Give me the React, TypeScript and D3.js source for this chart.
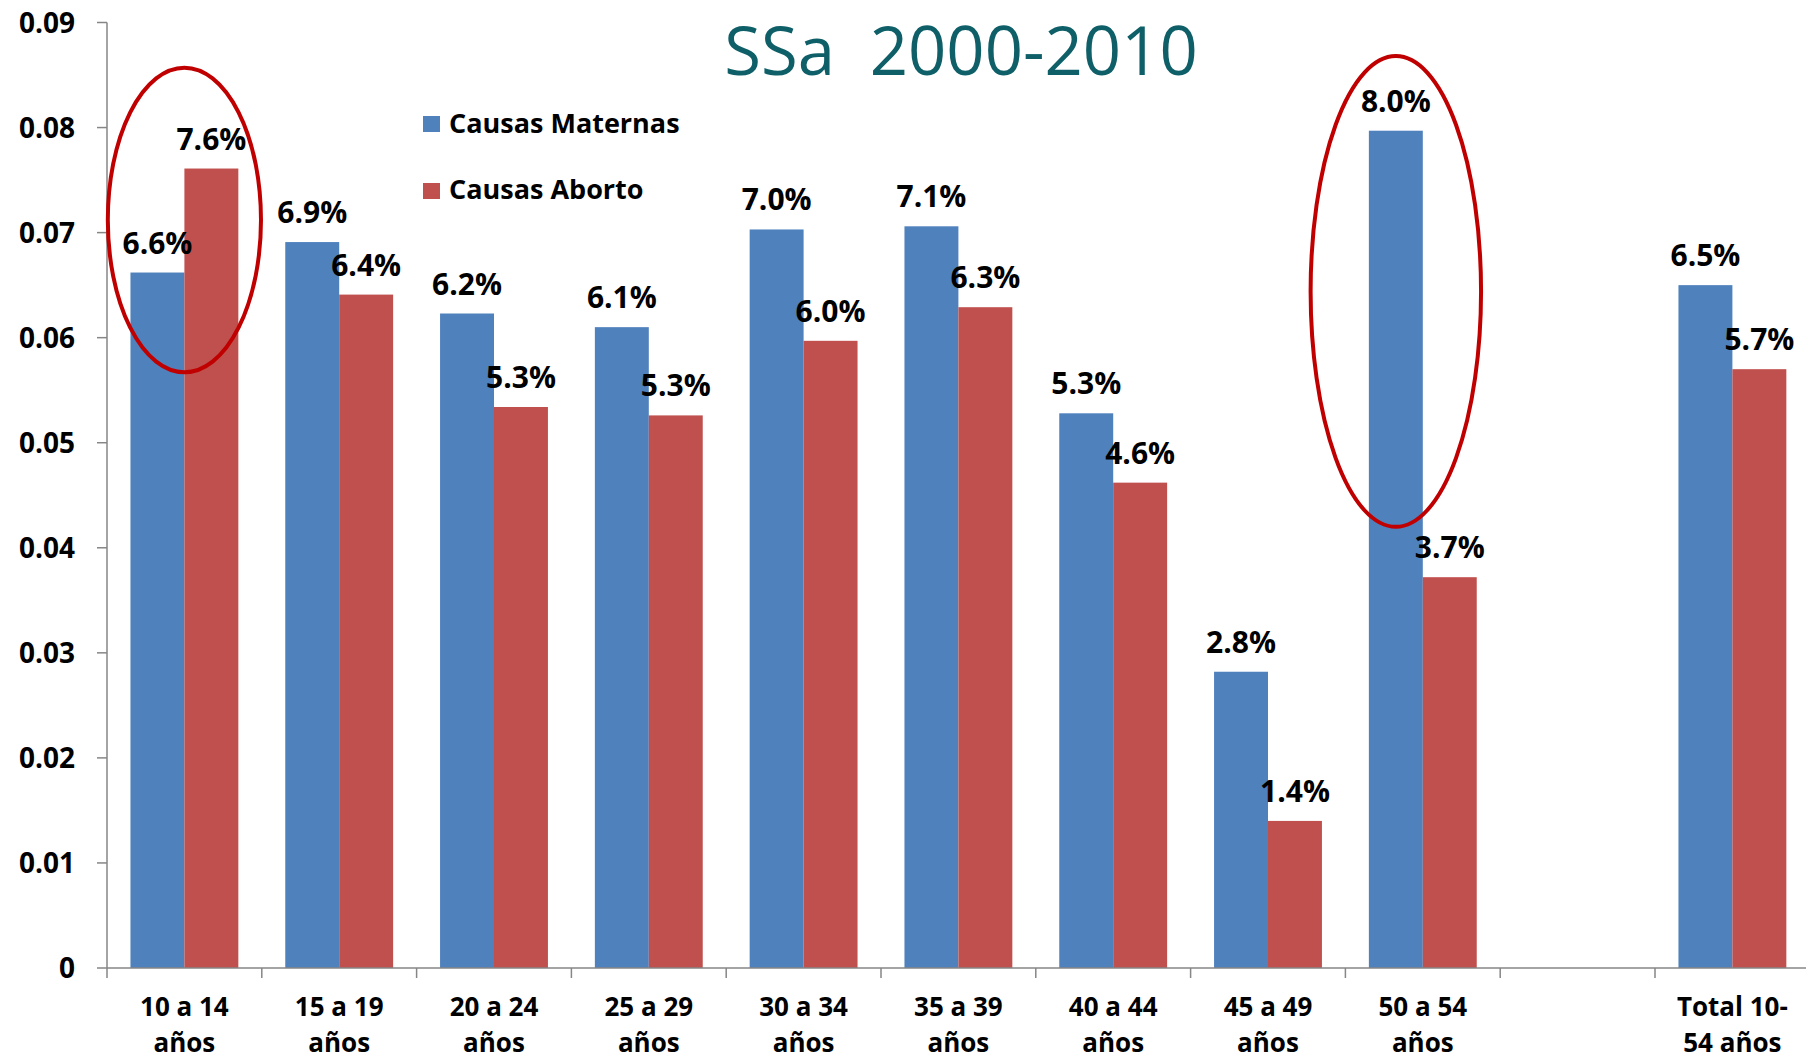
import React, { useEffect } from "react";
import * as d3 from "d3";

const categories = ["10-14", "15-19", "20-24", "25-29", "30-34", "35-39", "40-44", "45-49", "50-54", "gap", "total"];
const categoryLines: string[][] = [
  ["10 a 14", "años"],
  ["15 a 19", "años"],
  ["20 a 24", "años"],
  ["25 a 29", "años"],
  ["30 a 34", "años"],
  ["35 a 39", "años"],
  ["40 a 44", "años"],
  ["45 a 49", "años"],
  ["50 a 54", "años"],
  [],
  ["Total 10-", "54 años"],
];
const maternas: (number | null)[] = [0.0662, 0.0691, 0.0623, 0.061, 0.0703, 0.0706, 0.0528, 0.0282, 0.0797, null, 0.065];
const aborto: (number | null)[] = [0.0761, 0.0641, 0.0534, 0.0526, 0.0597, 0.0629, 0.0462, 0.014, 0.0372, null, 0.057];
const seriesNames = ["Causas Maternas", "Causas Aborto"];
const seriesColors = ["#4f81bd", "#c0504d"];
const yTicks = [0, 0.01, 0.02, 0.03, 0.04, 0.05, 0.06, 0.07, 0.08, 0.09];
// highlighted groups: category, value range, horizontal shift in bar widths
const highlightCats = ["10-14", "50-54"];
const highlightLow = [0.0567, 0.042];
const highlightHigh = [0.0857, 0.0868];
const highlightShift = [0, -0.5];
const highlightHalfWidth = [1.42, 1.58];
const titleText = "SSa  2000-2010";

const W = 1806;
const H = 1060;
const FONT = "'Open Sans', 'Noto Sans', sans-serif";

export default function App() {
  useEffect(() => {
    document.body.style.margin = "0";
  }, []);

  const x0 = 107;
  const step = 154.8;
  const x = d3.scaleBand<string>().domain(categories).range([x0, x0 + step * categories.length]).padding(0);
  const bw = x.bandwidth();
  const x1 = d3.scaleBand<string>().domain(seriesNames).range([0, bw]).paddingInner(0).paddingOuter(0.435);
  const y = d3.scaleLinear().domain([0, 0.09]).range([968, 22.5]);
  const fmt = d3.format(".1%");
  const series = [maternas, aborto];
  const barW = x1.bandwidth();

  return (
    <svg width={W} height={H} style={{ position: "absolute", left: 0, top: 0, background: "#fff" }} fontFamily={FONT}>
      <rect x={0} y={0} width={W} height={H} fill="#fff" />
      {/* title */}
      <text x={961} y={75} textAnchor="middle" fontSize={67} fill="#0e5f68" style={{ whiteSpace: "pre" }}>
        {titleText}
      </text>
      {/* y axis */}
      <line x1={x0} x2={x0} y1={y(0.09)} y2={y(0)} stroke="#868686" strokeWidth={1.5} />
      {yTicks.map((t) => (
        <g key={t}>
          <line x1={x0 - 10} x2={x0} y1={y(t)} y2={y(t)} stroke="#868686" strokeWidth={1.5} />
          <text x={75} y={y(t) + 10} textAnchor="end" fontSize={28} fontWeight="bold" fill="#000">
            {t === 0 ? "0" : t.toFixed(2)}
          </text>
        </g>
      ))}
      {/* bars */}
      {series.map((vals, si) =>
        vals.map((v, i) =>
          v == null ? null : (
            <rect
              key={`${si}-${i}`}
              x={(x(categories[i]) as number) + (x1(seriesNames[si]) as number)}
              y={y(v)}
              width={barW}
              height={y(0) - y(v)}
              fill={seriesColors[si]}
            />
          )
        )
      )}
      {/* x axis */}
      <line x1={x0} x2={x0 + step * categories.length} y1={y(0)} y2={y(0)} stroke="#868686" strokeWidth={1.5} />
      {d3.range(categories.length + 1).map((i) => (
        <line key={i} x1={x0 + i * step} x2={x0 + i * step} y1={y(0)} y2={y(0) + 10} stroke="#868686" strokeWidth={1.5} />
      ))}
      {categories.map((c, i) => (
        <text key={c} textAnchor="middle" fontSize={26} fontWeight="bold" fill="#000">
          {categoryLines[i].map((ln, j) => (
            <tspan key={j} x={(x(c) as number) + bw / 2} y={1016 + j * 35.6}>
              {ln}
            </tspan>
          ))}
        </text>
      ))}
      {/* data labels */}
      {series.map((vals, si) =>
        vals.map((v, i) =>
          v == null ? null : (
            <text
              key={`l${si}-${i}`}
              x={(x(categories[i]) as number) + (x1(seriesNames[si]) as number) + barW / 2}
              y={y(v) - 19}
              textAnchor="middle"
              fontSize={30}
              fontWeight="bold"
              fill="#000"
            >
              {fmt(v)}
            </text>
          )
        )
      )}
      {/* legend */}
      {seriesNames.map((s, i) => (
        <g key={s}>
          <rect x={423} y={116 + i * 67} width={17} height={16} fill={seriesColors[i]} />
          <text x={449} y={133 + i * 66} fontSize={27} fontWeight="bold" fill="#000">
            {s}
          </text>
        </g>
      ))}
      {/* highlight ellipses */}
      {highlightCats.map((c, i) => {
        const cx = (x(c) as number) + bw / 2 + highlightShift[i] * barW;
        const cy = (y(highlightLow[i]) + y(highlightHigh[i])) / 2;
        const ry = (y(highlightLow[i]) - y(highlightHigh[i])) / 2;
        const rx = highlightHalfWidth[i] * barW;
        return <ellipse key={c} cx={cx} cy={cy} rx={rx} ry={ry} fill="none" stroke="#c00000" strokeWidth={4} />;
      })}
    </svg>
  );
}
